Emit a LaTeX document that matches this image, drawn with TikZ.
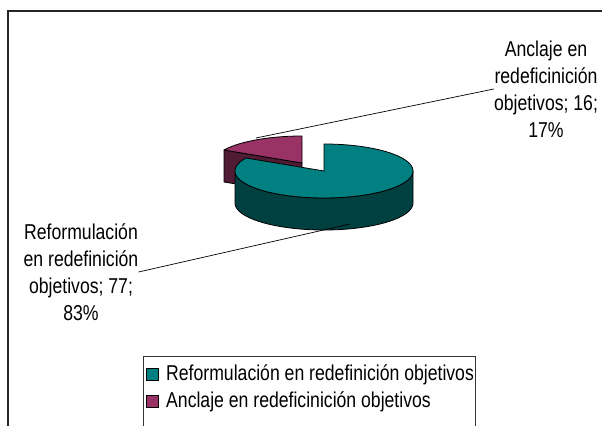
\documentclass[tikz,border=0pt]{standalone}
\usepackage{fontspec}
\setmainfont{Liberation Sans}[FakeStretch=0.82]
\definecolor{tealtop}{HTML}{008080}
\definecolor{tealside}{HTML}{004040}
\definecolor{magtop}{HTML}{993366}
\definecolor{magside}{HTML}{4F1B35}
\tikzset{
  slice/.style={draw=black, line width=0.8pt, line join=round},
  lbl/.style={align=center, font=\fontsize{21.5}{27}\selectfont, inner sep=0pt},
  legtxt/.style={anchor=west, font=\fontsize{21.5}{27}\selectfont, inner sep=0pt},
  legsq/.style={draw=black, line width=0.8pt, minimum size=12pt, inner sep=0pt},
  leader/.style={draw=black, line width=0.7pt},
  frame/.style={draw=black!85, line width=1.4pt},
}
\begin{document}
\begin{tikzpicture}[x=1pt,y=-1pt]
\useasboundingbox (0,0) rectangle (602,426);
% outer frame (cut at right and bottom)
\draw[frame] (8,426) -- (8,11) -- (602,11);
% magenta slice (exploded)
\coordinate (M) at (302,163);
\filldraw[slice, fill=magside] (M) -- (224,150) -- (224,182) -- (302,195) -- cycle;
\filldraw[slice, fill=magtop] (M) -- (302,136) -- plot[domain=90:151.2, samples=40] ({302+89*cos(\x)},{163-27*sin(\x)}) -- cycle;
% teal slice
\coordinate (T) at (324,171);
\filldraw[slice, fill=tealside] plot[domain=180:360, samples=80] ({324+89*cos(\x)},{171-27*sin(\x)}) -- plot[domain=360:180, samples=80] ({324+89*cos(\x)},{203-27*sin(\x)}) -- cycle;
\filldraw[slice, fill=tealtop] (T) -- (324,144) -- plot[domain=90:-208.8, samples=120] ({324+89*cos(\x)},{171-27*sin(\x)}) -- cycle;
% leader anchor points
\coordinate (pm) at (256,138);
\coordinate (pt) at (350,224);
% labels
\node[lbl] (lab2) at (546,89) {Anclaje en\\redeficinición\\objetivos; 16;\\17\%};
\node[lbl] (lab1) at (81,272) {Reformulación\\en redefinición\\objetivos; 77;\\83\%};
\draw[leader] (pm) -- (lab2.west);
\draw[leader] (pt) -- (lab1.east);
% legend
\draw[draw=black!80, line width=1pt] (143,426) -- (143,356) -- (475,356) -- (475,426);
\node[legsq, fill=tealtop] (sq1) at (152,374) {};
\node[legsq, fill=magtop] (sq2) at (152,401) {};
\node[legtxt] (lt1) at (166,375) {Reformulación en redefinición objetivos};
\node[legtxt] (lt2) at (166,402) {Anclaje en redeficinición objetivos};
\end{tikzpicture}
\end{document}
